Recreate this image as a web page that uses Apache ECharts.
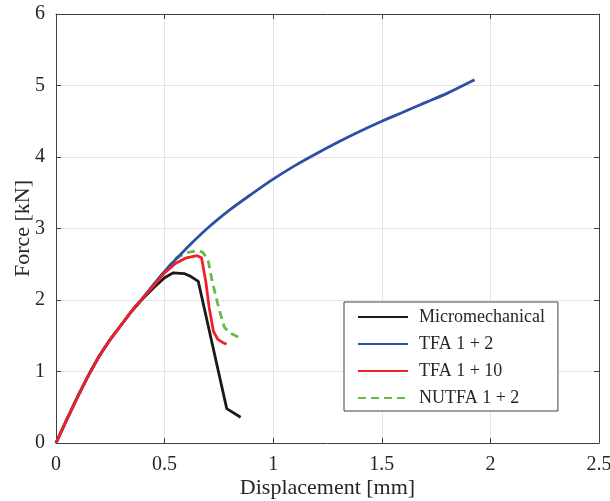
<!DOCTYPE html>
<html><head><meta charset="utf-8">
<script src="https://cdn.jsdelivr.net/npm/echarts@6/dist/echarts.min.js"></script>
<style>html,body{margin:0;padding:0;background:#fff}#c{width:610px;height:501px}</style>
</head><body><div id="c"></div>
<script>
const seriesNames = ['Micromechanical', 'TFA 1 + 2', 'TFA 1 + 10', 'NUTFA 1 + 2'];
const microX = [0,0.05,0.1,0.15,0.2,0.25,0.3,0.35,0.4,0.45,0.5,0.54,0.59,0.62,0.655,0.786,0.85];
const microY = [0,0.33,0.65,0.95,1.22,1.45,1.65,1.85,2.02,2.17,2.31,2.38,2.37,2.33,2.26,0.48,0.36];
const tfa2X = [0,0.05,0.1,0.15,0.2,0.25,0.3,0.35,0.4,0.45,0.5,0.6,0.7,0.8,0.9,1.0,1.1,1.2,1.3,1.4,1.5,1.6,1.7,1.8,1.927];
const tfa2Y = [0,0.33,0.65,0.95,1.22,1.45,1.65,1.85,2.03,2.22,2.40,2.72,3.01,3.26,3.48,3.69,3.88,4.05,4.21,4.36,4.50,4.63,4.76,4.89,5.08];
const tfa10X = [0,0.05,0.1,0.15,0.2,0.25,0.3,0.35,0.4,0.45,0.5,0.55,0.6,0.65,0.67,0.69,0.705,0.725,0.745,0.765,0.785];
const tfa10Y = [0,0.33,0.65,0.95,1.22,1.45,1.65,1.85,2.03,2.20,2.38,2.51,2.59,2.62,2.59,2.25,1.90,1.56,1.45,1.41,1.38];
const nutfaX = [0,0.05,0.1,0.15,0.2,0.25,0.3,0.35,0.4,0.45,0.5,0.55,0.6,0.65,0.675,0.7,0.72,0.75,0.775,0.8,0.84];
const nutfaY = [0,0.33,0.65,0.95,1.22,1.45,1.65,1.85,2.03,2.22,2.40,2.58,2.66,2.69,2.67,2.56,2.25,1.88,1.62,1.54,1.48];
const xTicks = [0,0.5,1,1.5,2,2.5];
const yTicks = [0,1,2,3,4,5,6];

const zip = (xs, ys) => xs.map((x, i) => [x, ys[i]]);
const FONT = 'Liberation Serif';
const AX = '#404040';
const txt = '#262626';

const chart = echarts.init(document.getElementById('c'));
function mkX(pos, show) {
  return {
    type: 'value', position: pos, min: xTicks[0], max: xTicks[xTicks.length-1], interval: 0.5,
    axisLine: {show: true, onZero: false, lineStyle: {color: AX, width: 1}},
    axisTick: {show: true, inside: true, length: 5, lineStyle: {color: AX}},
    axisLabel: {show: show, color: txt, fontFamily: FONT, fontSize: 20, margin: 12,
      formatter: v => String(v)},
    splitLine: {show: show, lineStyle: {color: '#e4e4e4', width: 1}},
    name: show ? 'Displacement [mm]' : '', nameLocation: 'middle', nameGap: 34,
    nameMoveOverlap: false,
    nameTextStyle: {color: txt, fontFamily: FONT, fontSize: 22}
  };
}
function mkY(pos, show) {
  return {
    type: 'value', position: pos, min: yTicks[0], max: yTicks[yTicks.length-1], interval: 1,
    axisLine: {show: true, onZero: false, lineStyle: {color: AX, width: 1}},
    axisTick: {show: true, inside: true, length: 5, lineStyle: {color: AX}},
    axisLabel: {show: show, color: txt, fontFamily: FONT, fontSize: 20, margin: 11},
    splitLine: {show: show, lineStyle: {color: '#e4e4e4', width: 1}},
    name: show ? 'Force [kN]' : '', nameLocation: 'middle', nameGap: 22,
    nameMoveOverlap: false,
    nameTextStyle: {color: txt, fontFamily: FONT, fontSize: 22}
  };
}
const line = (name, data, color, z, type, smooth) => ({
  name, type: 'line', data, symbol: 'none', z, xAxisIndex: 0, yAxisIndex: 0,
  smooth: smooth || false,
  lineStyle: {color, width: 2.8, type: type || 'solid'}, itemStyle: {color},
  animation: false
});
chart.setOption({
  animation: false,
  backgroundColor: '#fff',
  grid: {left: 56, right: 11, top: 14, bottom: 58, containLabel: false, outerBoundsMode: 'none'},
  xAxis: [mkX('bottom', true), mkX('top', false)],
  yAxis: [mkY('left', true), mkY('right', false)],
  legend: {
    data: seriesNames, orient: 'vertical', left: 344, top: 302,
    itemWidth: 50, itemHeight: 18, itemGap: 9,
    padding: [6, 13, 4, 13],
    itemStyle: {opacity: 0},
    borderColor: '#404040', borderWidth: 1, backgroundColor: '#fff',
    textStyle: {color: txt, fontFamily: FONT, fontSize: 18, padding: [0, 0, 0, 6]}
  },
  series: [
    line(seriesNames[3], zip(nutfaX, nutfaY), '#66bb44', 2, [8, 5]),
    line(seriesNames[0], zip(microX, microY), '#1a1a1a', 3),
    line(seriesNames[1], zip(tfa2X, tfa2Y), '#2e4fa6', 4, null, 0.3),
    line(seriesNames[2], zip(tfa10X, tfa10Y), '#f0202a', 5)
  ]
});
</script></body></html>
